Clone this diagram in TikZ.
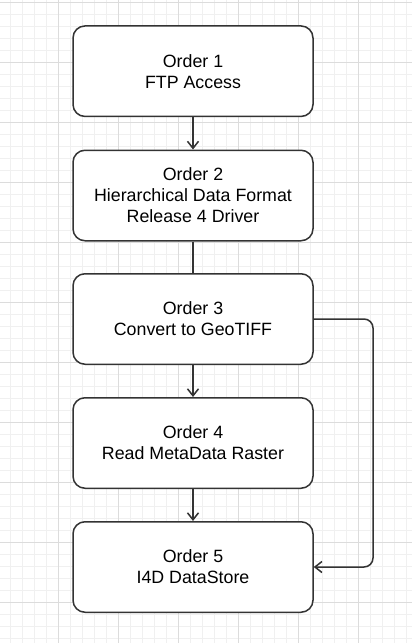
\documentclass[tikz,border=0pt]{standalone}
\usepackage{fontspec}
\setmainfont{Liberation Sans}
\usetikzlibrary{arrows.meta}
\definecolor{gmajor}{HTML}{DCDCDC}
\definecolor{gminor}{HTML}{F0F0F0}
\definecolor{stroke}{HTML}{333333}
\tikzset{
  orderbox/.style={draw=stroke, line width=1.5pt, rounded corners=12pt, fill=white,
    minimum width=240pt, minimum height=90.5pt, align=center, inner sep=0pt,
    font=\fontsize{17.8}{21}\selectfont, text=black},
  conn/.style={draw=stroke, line width=1.5pt, -{Straight Barb[length=7pt,width=11pt,line width=1.5pt]}},
  plainconn/.style={draw=stroke, line width=1.5pt},
}
\begin{document}
\begin{tikzpicture}[x=1pt,y=-1pt]
\useasboundingbox (0,0) rectangle (412,643);
\fill[white] (0,0) rectangle (412,643);
% minor grid
\foreach \i in {0,...,35} {
  \draw[gminor, line width=0.8pt] ({-1.5+12*\i},0) -- ({-1.5+12*\i},643);
}
\foreach \j in {0,...,54} {
  \draw[gminor, line width=0.8pt] (0,{2+12*\j}) -- (412,{2+12*\j});
}
% major grid
\foreach \i in {0,...,7} {
  \draw[gmajor, line width=0.9pt] ({-1.5+60*\i},0) -- ({-1.5+60*\i},643);
}
\foreach \j in {0,...,10} {
  \draw[gmajor, line width=0.9pt] (0,{2+60*\j}) -- (412,{2+60*\j});
}
\node[orderbox] (o1) at (193,71.2) {Order 1\\FTP Access};
\node[orderbox] (o2) at (193,195.5) {Order 2\\Hierarchical Data Format\\Release 4 Driver};
\node[orderbox] (o3) at (193,319) {Order 3\\Convert to GeoTIFF};
\node[orderbox] (o4) at (193,443) {Order 4\\Read MetaData Raster};
\node[orderbox] (o5) at (193,567) {Order 5\\I4D DataStore};
\draw[conn] (o1) -- (o2);
\draw[plainconn] (o2) -- (o3);
\draw[conn] (o3) -- (o4);
\draw[conn] (o4) -- (o5);
\coordinate (c1) at (373,319);
\coordinate (c2) at (373,567);
\draw[conn, rounded corners=9pt] (o3.east) -- (c1) -- (c2) -- (o5.east);
\end{tikzpicture}
\end{document}
